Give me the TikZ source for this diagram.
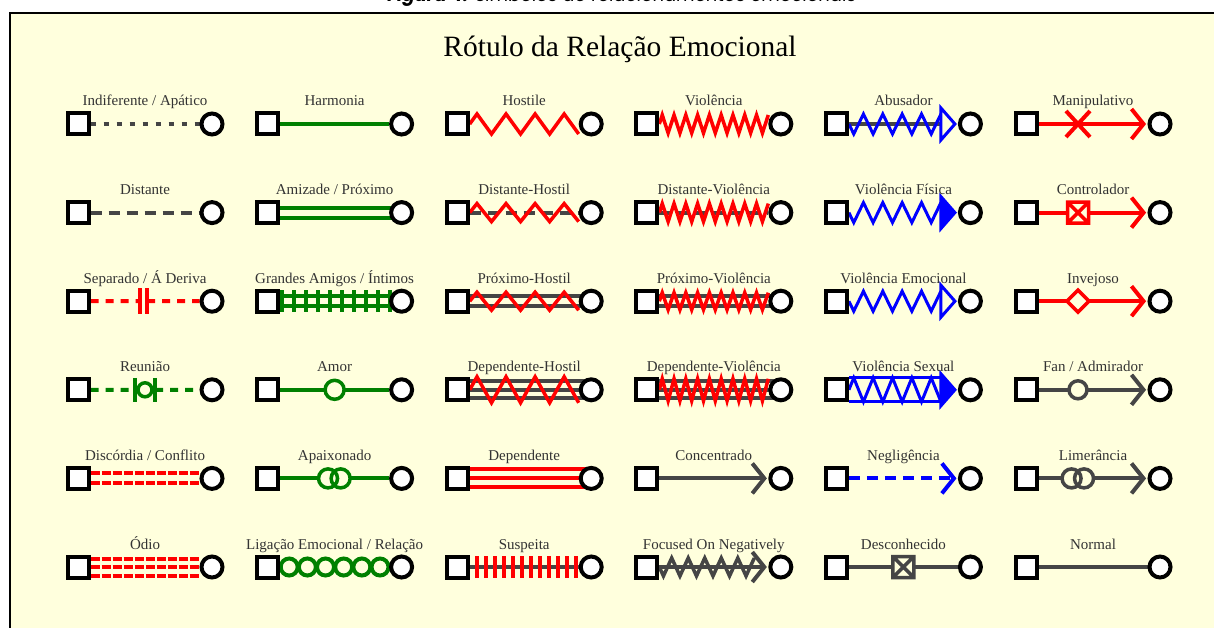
\documentclass[tikz,border=0pt]{standalone}
\usepackage{fontspec}
\setmainfont{Liberation Serif}
\newfontfamily\poppins{Poppins}
\usepackage{tikz}
\usetikzlibrary{calc,backgrounds}

\definecolor{fundo}{HTML}{FFFFDD}
\definecolor{linha}{HTML}{454545}
\definecolor{verdeesc}{HTML}{008000}

\tikzset{
  homem/.style={rectangle, draw=black, fill=white, line width=4pt, minimum size=21pt, inner sep=0pt},
  mulher/.style={circle, draw=black, fill=white, line width=4pt, minimum size=21pt, inner sep=0pt},
  rotulo/.style={font=\fontsize{15}{17}\selectfont, text=black!80, anchor=base, inner sep=0pt},
  lcinza/.style={draw=linha, line width=4pt},
  lverde/.style={draw=verdeesc, line width=4pt},
  lverm/.style={draw=red, line width=4pt},
  lazul/.style={draw=blue, line width=4pt},
  pontilhado/.style={dash pattern=on 5pt off 8pt},
  tracejado/.style={dash pattern=on 11pt off 7pt},
  tracinho/.style={dash pattern=on 8pt off 7pt},
  picotado/.style={dash pattern=on 9pt off 2pt},
}

% zigue-zague: [estilo]{de}{ate}{vertices}{amplitude}
\newcommand{\zigue}[5][]{\draw[#1] (#2) \foreach \i in {1,...,#4}{ -- ($(#2)!{(\i-0.5)/(#4-0.5)}!(#3)+(0,{cos(180*\i)*(#5)})$)};}
% seta aberta antes do circulo
\newcommand{\seta}[2]{\draw[#1, line join=miter] ($(#2.west)+(-16,-15)$) -- ($(#2.west)+(-4,0)$) -- ($(#2.west)+(-16,15)$);}
% ponta triangular azul
\newcommand{\triangulo}[2]{\draw[draw=blue, line width=3pt, line join=miter, fill=#1] ($(#2.west)+(-3,0)$) -- ($(#2.west)+(-17,-16)$) -- ($(#2.west)+(-17,16)$) -- cycle;}
% caixa com X
\newcommand{\caixax}[2]{\draw[#1, line width=3.5pt, fill=fundo] ($(#2)+(-10.5,-10.5)$) rectangle ($(#2)+(10.5,10.5)$) ($(#2)+(-10.5,-10.5)$) -- ($(#2)+(10.5,10.5)$) ($(#2)+(-10.5,10.5)$) -- ($(#2)+(10.5,-10.5)$);}

\begin{document}
\begin{tikzpicture}[x=1pt, y=-1pt]
\useasboundingbox (0,0) rectangle (1214,628);
\begin{scope}[on background layer]
  \fill[white] (0,0) rectangle (1214,628);
  \fill[fundo] (10,13) rectangle (1240,650);
  \draw[line width=1.6pt] (10,650) -- (10,13) -- (1240,13);
\end{scope}

\node[font=\poppins\fontsize{18}{20}\selectfont\itshape, anchor=base] (legenda) at (622,2) {\textbf{Figura 4.} Símbolos de relacionamentos emocionais};
\node[font=\fontsize{29.5}{31}\selectfont, anchor=base] (titulo) at (620,57) {Rótulo da Relação Emocional};

% pessoas
\foreach \r in {1,...,6}
  \foreach \c in {1,...,6} {
    \node[homem] (m\r\c) at ({78+189.6*(\c-1)}, {124+88.6*(\r-1)}) {};
    \node[mulher] (f\r\c) at ({212+189.6*(\c-1)}, {124+88.6*(\r-1)}) {};
  }

% rotulos
\foreach \c/\txt in {1/{Indiferente / Apático}, 2/Harmonia, 3/Hostile, 4/Violência, 5/Abusador, 6/Manipulativo}
  \node[rotulo] (t1\c) at ($(m1\c)!0.5!(f1\c)+(0,-18)$) {\txt};
\foreach \c/\txt in {1/Distante, 2/{Amizade / Próximo}, 3/Distante-Hostil, 4/Distante-Violência, 5/Violência Física, 6/Controlador}
  \node[rotulo] (t2\c) at ($(m2\c)!0.5!(f2\c)+(0,-18)$) {\txt};
\foreach \c/\txt in {1/{Separado / Á Deriva}, 2/{Grandes Amigos / Íntimos}, 3/Próximo-Hostil, 4/Próximo-Violência, 5/Violência Emocional, 6/Invejoso}
  \node[rotulo] (t3\c) at ($(m3\c)!0.5!(f3\c)+(0,-18)$) {\txt};
\foreach \c/\txt in {1/Reunião, 2/Amor, 3/Dependente-Hostil, 4/Dependente-Violência, 5/Violência Sexual, 6/{Fan / Admirador}}
  \node[rotulo] (t4\c) at ($(m4\c)!0.5!(f4\c)+(0,-18)$) {\txt};
\foreach \c/\txt in {1/{Discórdia / Conflito}, 2/Apaixonado, 3/Dependente, 4/Concentrado, 5/Negligência, 6/Limerância}
  \node[rotulo] (t5\c) at ($(m5\c)!0.5!(f5\c)+(0,-18)$) {\txt};
\foreach \c/\txt in {1/Ódio, 2/{Ligação Emocional / Relação}, 3/Suspeita, 4/Focused On Negatively, 5/Desconhecido, 6/Normal}
  \node[rotulo] (t6\c) at ($(m6\c)!0.5!(f6\c)+(0,-18)$) {\txt};

\begin{scope}[on background layer]
% linha 1
\draw[lcinza, pontilhado] (m11.east) -- (f11.west);
\draw[lverde] (m12) -- (f12);
\zigue[lverm, line width=3.5pt]{m13.east}{f13.west}{8}{10}
\zigue[lverm, line width=3.5pt]{m14.east}{f14.west}{19}{9}
\coordinate (b15) at ($(f15.west)+(-17,0)$);
\draw[lcinza] (m15) -- (b15);
\zigue[lazul, line width=3pt]{m15.east}{b15}{10}{-10}
\triangulo{fundo}{f15}
\coordinate (x16) at ($(m16)!0.388!(f16)$);
\draw[lverm] (m16) -- ($(f16.west)+(-4,0)$);
\draw[lverm] ($(x16)+(-12,-13)$) -- ($(x16)+(12,13)$) ($(x16)+(-12,13)$) -- ($(x16)+(12,-13)$);
\seta{lverm}{f16}

% linha 2
\draw[lcinza, tracejado] (m21.east) -- (f21.west);
\draw[lverde] ([yshift=5pt]m22.center) -- ([yshift=5pt]f22.center);
\draw[lverde] ([yshift=-5pt]m22.center) -- ([yshift=-5pt]f22.center);
\draw[lcinza, tracejado] (m23.east) -- (f23.west);
\zigue[lverm, line width=3.5pt]{m23.east}{f23.west}{8}{9}
\draw[lcinza, tracejado] (m24.east) -- (f24.west);
\zigue[lverm, line width=3.5pt]{m24.east}{f24.west}{19}{9}
\coordinate (b25) at ($(f25.west)+(-17,0)$);
\zigue[lazul, line width=3pt]{m25.east}{b25}{10}{-10}
\triangulo{blue}{f25}
\coordinate (x26) at ($(m26)!0.388!(f26)$);
\draw[lverm] (m26) -- ($(f26.west)+(-4,0)$);
\caixax{lverm}{x26}
\seta{lverm}{f26}

% linha 3
\coordinate (e31) at ($(m31)!0.463!(f31)$);
\coordinate (d31) at ($(m31)!0.515!(f31)$);
\draw[lverm, tracinho] (m31.east) -- (e31);
\draw[lverm, tracinho] (d31) -- (f31.west);
\draw[lverm] ($(e31)+(0,-13)$) -- ($(e31)+(0,13)$) ($(d31)+(0,-13)$) -- ($(d31)+(0,13)$);
\draw[lverde] ([yshift=5pt]m32.center) -- ([yshift=5pt]f32.center);
\draw[lverde] ([yshift=-5pt]m32.center) -- ([yshift=-5pt]f32.center);
\foreach \k in {0,...,9}
  \draw[lverde] ($(m32.east)!{0.02+0.11*\k}!(f32.west)+(0,-11)$) -- ++(0,22);
\draw[lcinza] ([yshift=5pt]m33.center) -- ([yshift=5pt]f33.center);
\draw[lcinza] ([yshift=-5pt]m33.center) -- ([yshift=-5pt]f33.center);
\zigue[lverm, line width=3.5pt]{m33.east}{f33.west}{8}{9}
\draw[lcinza] ([yshift=5pt]m34.center) -- ([yshift=5pt]f34.center);
\draw[lcinza] ([yshift=-5pt]m34.center) -- ([yshift=-5pt]f34.center);
\zigue[lverm, line width=3.5pt]{m34.east}{f34.west}{19}{8.5}
\coordinate (b35) at ($(f35.west)+(-17,0)$);
\zigue[lazul, line width=3pt]{m35.east}{b35}{10}{-10}
\triangulo{fundo}{f35}
\coordinate (x36) at ($(m36)!0.388!(f36)$);
\draw[lverm] (m36) -- ($(f36.west)+(-4,0)$);
\draw[lverm, line width=3.5pt, fill=fundo] ($(x36)+(-11,0)$) -- ($(x36)+(0,-11)$) -- ($(x36)+(11,0)$) -- ($(x36)+(0,11)$) -- cycle;
\seta{lverm}{f36}

% linha 4
\coordinate (e41) at ($(m41)!0.425!(f41)$);
\coordinate (o41) at ($(m41)!0.5!(f41)$);
\coordinate (d41) at ($(m41)!0.575!(f41)$);
\draw[lverde, tracinho] (m41.east) -- (e41);
\draw[lverde, tracinho] (d41) -- (f41.west);
\draw[lverde] (e41) -- (d41);
\draw[lverde] ($(e41)+(0,-12)$) -- ($(e41)+(0,12)$) ($(d41)+(0,-12)$) -- ($(d41)+(0,12)$);
\draw[lverde, line width=3.5pt, fill=fundo] (o41) circle[radius=7pt];
\draw[lverde] (m42) -- (f42);
\draw[lverde, line width=3.5pt, fill=fundo] ($(m42)!0.5!(f42)$) circle[radius=9.5pt];
\foreach \d in {-8.5,0,8.5}
  \draw[lcinza] ([yshift=\d pt]m43.center) -- ([yshift=\d pt]f43.center);
\zigue[lverm, line width=3.5pt]{m43.east}{f43.west}{8}{13}
\foreach \d in {-8.5,0,8.5}
  \draw[lcinza] ([yshift=\d pt]m44.center) -- ([yshift=\d pt]f44.center);
\zigue[lverm, line width=3.5pt]{m44.east}{f44.west}{19}{11}
\coordinate (b45) at ($(f45.west)+(-17,0)$);
\draw[lazul, line width=3pt] ([yshift=12pt]m45.east) -- ([yshift=12pt]b45) ([yshift=-12pt]m45.east) -- ([yshift=-12pt]b45);
\zigue[lazul, line width=3pt]{m45.east}{b45}{10}{12}
\triangulo{blue}{f45}
\coordinate (x46) at ($(m46)!0.388!(f46)$);
\draw[lcinza] (m46) -- ($(f46.west)+(-4,0)$);
\draw[lcinza, line width=3.5pt, fill=fundo] (x46) circle[radius=9pt];
\seta{lcinza}{f46}

% linha 5
\draw[lverm, picotado] ([yshift=5pt]m51.east) -- ([yshift=5pt]f51.west);
\draw[lverm, picotado] ([yshift=-5pt]m51.east) -- ([yshift=-5pt]f51.west);
\draw[lverde] (m52) -- (f52);
\coordinate (a52) at ($(m52)!0.451!(f52)$);
\coordinate (b52) at ($(m52)!0.545!(f52)$);
\fill[fundo] (a52) circle[radius=9.5pt] (b52) circle[radius=9.5pt];
\draw[lverde, line width=3.5pt] (a52) circle[radius=9.5pt] (b52) circle[radius=9.5pt];
\foreach \d in {-9,0,9}
  \draw[lverm] ([yshift=\d pt]m53.center) -- ([yshift=\d pt]f53.center);
\draw[lcinza] (m54) -- ($(f54.west)+(-4,0)$);
\seta{lcinza}{f54}
\draw[lazul, tracejado] (m55.east) -- ($(f55.west)+(-4,0)$);
\seta{lazul}{f55}
\draw[lcinza] (m56) -- ($(f56.west)+(-4,0)$);
\coordinate (a56) at ($(m56)!0.34!(f56)$);
\coordinate (b56) at ($(m56)!0.433!(f56)$);
\fill[fundo] (a56) circle[radius=9.5pt] (b56) circle[radius=9.5pt];
\draw[lcinza, line width=3.5pt] (a56) circle[radius=9.5pt] (b56) circle[radius=9.5pt];
\seta{lcinza}{f56}

% linha 6
\foreach \d in {-8.5,0,8.5}
  \draw[lverm, picotado] ([yshift=\d pt]m61.east) -- ([yshift=\d pt]f61.west);
\foreach \k in {0,...,5}
  \draw[lverde, line width=4pt, fill=fundo] ($(m62.east)!{(2*\k+1)/12}!(f62.west)$) circle[radius=8.5pt];
\draw[lcinza] (m63) -- (f63);
\foreach \k in {0,...,11}
  \draw[lverm] ($(m63.east)!{0.07+0.0825*\k}!(f63.west)+(0,-11)$) -- ++(0,22);
\coordinate (b64) at ($(f64.west)+(-14,0)$);
\draw[lcinza] (m64) -- ($(f64.west)+(-4,0)$);
\zigue[lcinza, line width=3.5pt]{m64.east}{b64}{12}{-9}
\seta{lcinza}{f64}
\draw[lcinza] (m65) -- (f65);
\coordinate (x65) at ($(m65)!0.5!(f65)$);
\caixax{lcinza}{x65}
\draw[lcinza] (m66) -- (f66);
\end{scope}
\end{tikzpicture}
\end{document}
